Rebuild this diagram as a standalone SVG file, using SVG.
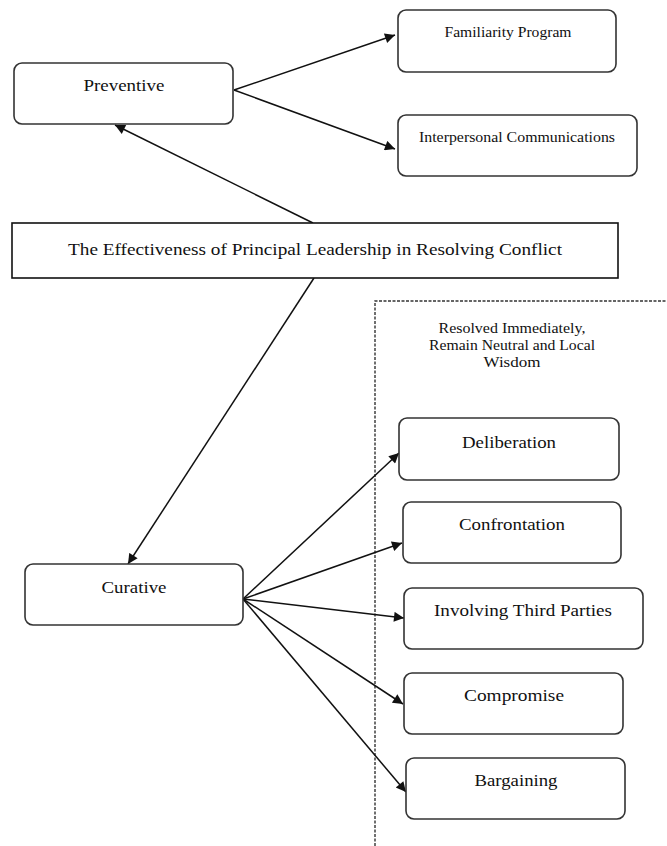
<svg xmlns="http://www.w3.org/2000/svg" width="667" height="846" viewBox="0 0 667 846">
  <style>
    .box { fill: #ffffff; stroke: #333333; stroke-width: 1.6; }
    .main { fill: #ffffff; stroke: #111111; stroke-width: 1.6; }
    .lbl { font-family: "Liberation Serif", "Times New Roman", serif; fill: #111111; text-anchor: middle; }
    .s14 { font-size: 14px; }
    .s15 { font-size: 15px; }
    .s16 { font-size: 16px; }
    .s17 { font-size: 17px; }
    .edge { stroke: #111111; stroke-width: 1.5; fill: none; marker-end: url(#arrow); }
    .dash { stroke: #333333; stroke-width: 1.4; stroke-dasharray: 3 1.5; fill: none; }
  </style>
  <defs>
    <marker id="arrow" viewBox="0 0 10 10" refX="10" refY="5" markerWidth="12" markerHeight="10" markerUnits="userSpaceOnUse" orient="auto">
      <path d="M0,0 L10,5 L0,10 z" fill="#111111"/>
    </marker>
  </defs>
  <rect width="667" height="846" fill="#ffffff"/>

  <!-- dashed grouping frame for curative strategies -->
  <g id="group-frame">
    <path class="dash" d="M375,846 L375,301 L667,301"/>
    <text class="lbl s15" x="512" y="333" textLength="147" lengthAdjust="spacingAndGlyphs">Resolved Immediately,</text>
    <text class="lbl s15" x="512" y="350" textLength="166" lengthAdjust="spacingAndGlyphs">Remain Neutral and Local</text>
    <text class="lbl s15" x="512" y="367" textLength="57" lengthAdjust="spacingAndGlyphs">Wisdom</text>
  </g>

  <!-- connectors -->
  <g id="connectors">
    <line class="edge" x1="234" y1="90" x2="395" y2="35"/>
    <line class="edge" x1="234" y1="90" x2="395" y2="149"/>
    <line class="edge" x1="313" y1="223" x2="115" y2="125"/>
    <line class="edge" x1="314" y1="278" x2="128" y2="564"/>
    <line class="edge" x1="243" y1="599" x2="399" y2="453"/>
    <line class="edge" x1="243" y1="599" x2="402" y2="543"/>
    <line class="edge" x1="243" y1="599" x2="404" y2="618"/>
    <line class="edge" x1="243" y1="599" x2="403" y2="704"/>
    <line class="edge" x1="243" y1="599" x2="406" y2="792"/>
  </g>

  <g id="preventive">
    <rect class="box" x="14" y="63" width="219" height="61" rx="8"/>
    <text class="lbl s17" x="124" y="91" textLength="81" lengthAdjust="spacingAndGlyphs">Preventive</text>
  </g>
  <g id="familiarity-program">
    <rect class="box" x="398" y="10" width="218" height="62" rx="8"/>
    <text class="lbl s15" x="508" y="37" textLength="127" lengthAdjust="spacingAndGlyphs">Familiarity Program</text>
  </g>
  <g id="interpersonal-communications">
    <rect class="box" x="398" y="115" width="239" height="61" rx="8"/>
    <text class="lbl s15" x="517" y="142" textLength="196" lengthAdjust="spacingAndGlyphs">Interpersonal Communications</text>
  </g>
  <g id="main-topic">
    <rect class="main" x="12" y="223" width="606" height="55"/>
    <text class="lbl s17" x="315" y="255" textLength="494" lengthAdjust="spacingAndGlyphs">The Effectiveness of Principal Leadership in Resolving Conflict</text>
  </g>
  <g id="curative">
    <rect class="box" x="25" y="564" width="218" height="61" rx="8"/>
    <text class="lbl s17" x="134" y="593" textLength="65" lengthAdjust="spacingAndGlyphs">Curative</text>
  </g>
  <g id="deliberation">
    <rect class="box" x="399" y="418" width="220" height="62" rx="8"/>
    <text class="lbl s17" x="509" y="448" textLength="94" lengthAdjust="spacingAndGlyphs">Deliberation</text>
  </g>
  <g id="confrontation">
    <rect class="box" x="403" y="502" width="218" height="61" rx="8"/>
    <text class="lbl s17" x="512" y="530" textLength="106" lengthAdjust="spacingAndGlyphs">Confrontation</text>
  </g>
  <g id="involving-third-parties">
    <rect class="box" x="404" y="588" width="239" height="61" rx="8"/>
    <text class="lbl s17" x="523" y="616" textLength="178" lengthAdjust="spacingAndGlyphs">Involving Third Parties</text>
  </g>
  <g id="compromise">
    <rect class="box" x="404" y="673" width="219" height="61" rx="8"/>
    <text class="lbl s17" x="514" y="701" textLength="100" lengthAdjust="spacingAndGlyphs">Compromise</text>
  </g>
  <g id="bargaining">
    <rect class="box" x="406" y="758" width="219" height="61" rx="8"/>
    <text class="lbl s17" x="516" y="786" textLength="83" lengthAdjust="spacingAndGlyphs">Bargaining</text>
  </g>
</svg>
